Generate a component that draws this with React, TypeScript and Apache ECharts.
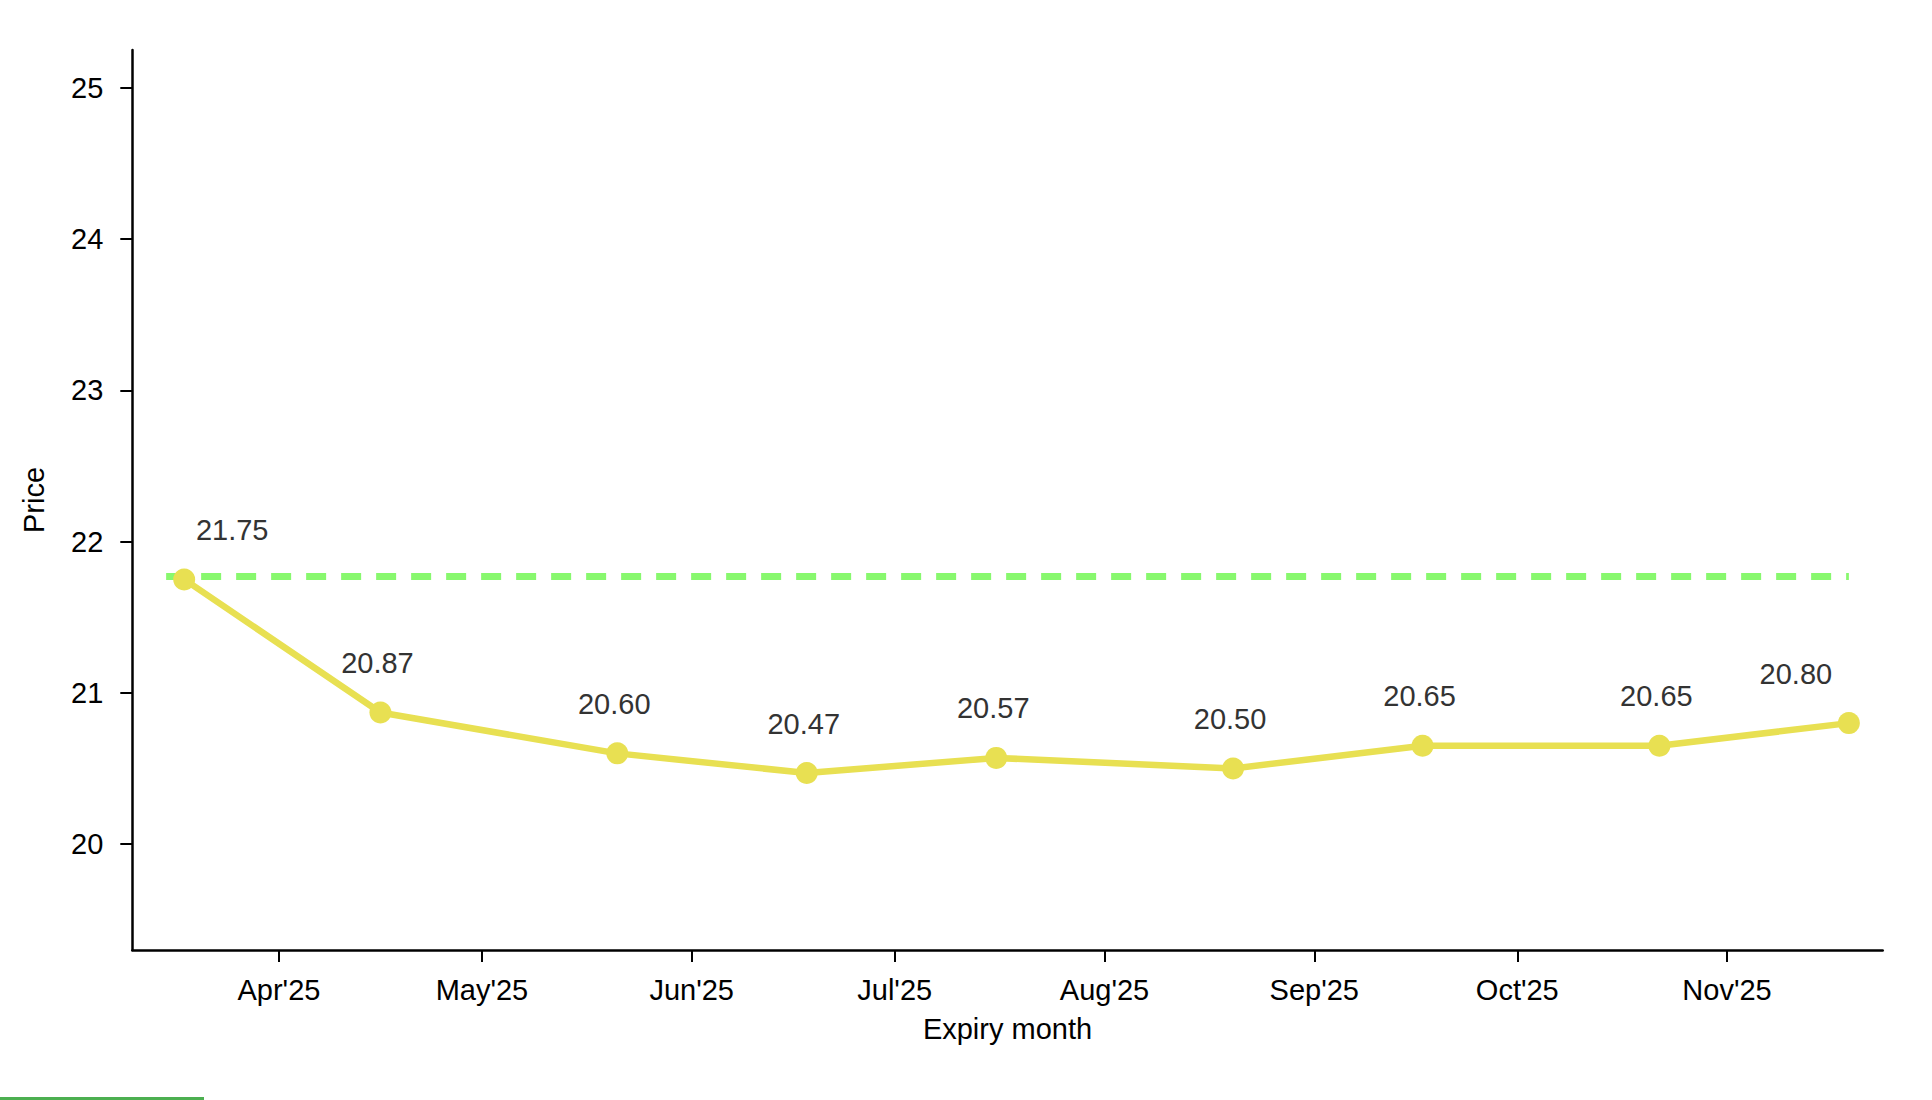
import React, { useEffect, useRef } from "react";
import * as echarts from "echarts";

const expiryDates = [
  "2025-03-18",
  "2025-04-16",
  "2025-05-21",
  "2025-06-18",
  "2025-07-16",
  "2025-08-20",
  "2025-09-17",
  "2025-10-22",
  "2025-11-19",
];
const prices = [21.75, 20.87, 20.6, 20.47, 20.57, 20.5, 20.65, 20.65, 20.8];

const spotDates = ["2025-03-15T08:00:00Z", "2025-11-19T00:00:00Z"];
const spotValue = 21.77;

const monthTickDates = [
  "2025-04-01",
  "2025-05-01",
  "2025-06-01",
  "2025-07-01",
  "2025-08-01",
  "2025-09-01",
  "2025-10-01",
  "2025-11-01",
];
const monthTickLabels = ["Apr'25", "May'25", "Jun'25", "Jul'25", "Aug'25", "Sep'25", "Oct'25", "Nov'25"];

const yTicks = [20, 21, 22, 23, 24, 25];

const xMinDate = "2025-03-10T08:00:00Z";
const xMaxDate = "2025-11-24T00:00:00Z";

const ts = (d: string) => new Date(d.length === 10 ? d + "T00:00:00Z" : d).getTime();

const FONT = "'Liberation Sans', Arial, Helvetica, sans-serif";

export default function App() {
  const ref = useRef<HTMLDivElement>(null);

  useEffect(() => {
    if (!ref.current) return;
    const chart = echarts.init(ref.current, undefined, { renderer: "svg" });
    const tickValues = monthTickDates.map(ts);
    const labelMap = new Map<number, string>();
    tickValues.forEach((v, i) => labelMap.set(v, monthTickLabels[i]));

    const lastIdx = prices.length - 1;
    const priceData = expiryDates.map((d, i) => {
      const item: any = { value: [ts(d), prices[i]] };
      if (i === 0) item.label = { offset: [48, 0] };
      else if (i === lastIdx) item.label = { offset: [-53, 0] };
      else item.label = { offset: [-3, 0] };
      return item;
    });

    chart.setOption({
      animation: false,
      backgroundColor: "#ffffff",
      textStyle: { fontFamily: FONT },
      grid: { left: 132.3, right: 49.3, top: 50, bottom: 150 },
      xAxis: {
        type: "value",
        min: ts(xMinDate),
        max: ts(xMaxDate),
        name: "Expiry month",
        nameLocation: "middle",
        nameGap: 64,
        nameTextStyle: { fontSize: 29, color: "#000", fontFamily: FONT },
        axisLine: { show: true, lineStyle: { color: "#000", width: 2.5 } },
        axisTick: {
          show: true,
          customValues: tickValues,
          length: 12,
          lineStyle: { color: "#000", width: 2 },
        },
        axisLabel: {
          show: true,
          customValues: tickValues,
          formatter: (v: number) => labelMap.get(v) ?? "",
          fontSize: 29,
          color: "#000",
          fontFamily: FONT,
          margin: 25,
        },
        splitLine: { show: false },
      },
      yAxis: {
        type: "value",
        min: 19.3,
        max: 25.25,
        name: "Price",
        nameLocation: "middle",
        nameGap: 84,
        nameRotate: 90,
        nameTextStyle: { fontSize: 29, color: "#000", fontFamily: FONT },
        axisLine: { show: true, lineStyle: { color: "#000", width: 2.5 } },
        axisTick: {
          show: true,
          customValues: yTicks,
          length: 12,
          lineStyle: { color: "#000", width: 2 },
        },
        axisLabel: {
          show: true,
          customValues: yTicks,
          fontSize: 29,
          color: "#000",
          fontFamily: FONT,
          margin: 29,
        },
        splitLine: { show: false },
      },
      series: [
        {
          type: "line",
          name: "Spot",
          data: spotDates.map((d) => [ts(d), spotValue]),
          showSymbol: false,
          symbol: "none",
          lineStyle: { color: "#88f86e", width: 7, type: [20, 15], cap: "butt" },
          z: 1,
        },
        {
          type: "line",
          name: "Futures",
          data: priceData,
          symbol: "circle",
          symbolSize: 22,
          itemStyle: { color: "#e8e052" },
          lineStyle: { color: "#e8e052", width: 6.5 },
          label: {
            show: true,
            position: "top",
            distance: 24,
            fontSize: 29,
            color: "#333333",
            fontFamily: FONT,
            formatter: (p: any) => p.value[1].toFixed(2),
          },
          z: 2,
        },
      ],
      graphic: [
        {
          type: "rect",
          left: 0,
          top: 1097,
          shape: { width: 204, height: 3 },
          style: { fill: "#4caf50" },
        },
      ],
    });

    return () => chart.dispose();
  }, []);

  return (
    <div
      ref={ref}
      style={{ position: "fixed", left: 0, top: 0, width: 1932, height: 1100, background: "#fff" }}
    />
  );
}
